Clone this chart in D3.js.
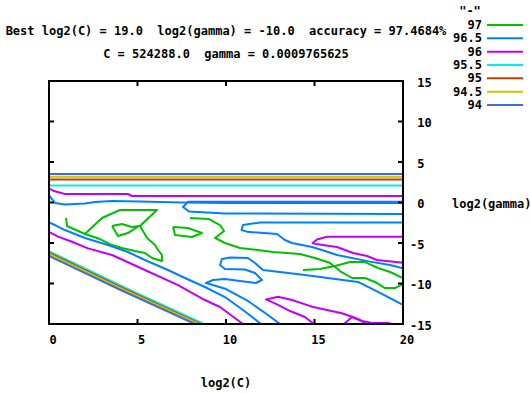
<!DOCTYPE html>
<html><head><meta charset="utf-8">
<script src="https://cdn.jsdelivr.net/npm/d3@7"></script>
<style>
body{margin:0;background:#fff}
text{font-family:"DejaVu Sans Mono",monospace;font-weight:bold;font-size:12px;fill:#000;white-space:pre}
</style>
</head><body><svg id="c" width="531" height="393"></svg>
<script>
// ---- data ----
const levels = [97, 96.5, 96, 95.5, 95, 94.5, 94];
const levelColors = ["#00c000","#0080ff","#c000ff","#00eeee","#c04000","#c8c800","#4169e1"];
const legendTitle = '"-"';
const xTicks = [0, 5, 10, 15, 20];
const yTicks = [15, 10, 5, 0, -5, -10, -15];
const xLabel = "log2(C)";
const yLabel = "log2(gamma)";
const titleLine1 = "Best log2(C) = 19.0  log2(gamma) = -10.0  accuracy = 97.4684%";
const titleLine2 = "C = 524288.0  gamma = 0.0009765625";

// contour paths, points are [log2(C), log2(gamma)]
const contour97 = [
  [[0.96,-1.91],[1.02,-2.90],[2.03,-3.89],[2.88,-4.51],[3.56,-5.25],[4.12,-5.62],[4.86,-5.99],[5.42,-6.23],[5.82,-6.85],[6.38,-7.22],[6.38,-6.48],[6.16,-5.86],[5.99,-5.25],[5.54,-4.38],[5.14,-2.90],[6.10,-0.93],[4.01,-0.93],[2.99,-1.91],[2.03,-3.89]],
  [[3.56,-2.90],[4.12,-2.65],[4.69,-3.02],[5.08,-2.90],[4.46,-3.77],[3.90,-4.14],[3.56,-2.90]],
  [[7.01,-3.02],[7.85,-3.15],[8.64,-3.77],[8.08,-4.26],[7.12,-4.01],[7.01,-3.02]],
  [[7.97,-1.91],[9.04,-2.04],[9.66,-2.78],[9.89,-3.52],[9.38,-4.38],[9.94,-5.00],[10.79,-5.62],[11.53,-5.80],[12.66,-6.11],[14.18,-6.36],[15.03,-6.85],[15.88,-7.47],[16.44,-8.46],[17.12,-9.32],[17.85,-9.32],[18.42,-9.81],[18.98,-10.56],[19.55,-10.56],[20,-10.06]],
  [[14.35,-8.33],[15.31,-8.21],[16.16,-7.84],[17.01,-7.35],[17.85,-7.35],[18.59,-8.09],[19.27,-8.58],[20,-9.32]]
];
const contour96_5 = [
  [[0,0.93],[0.11,0.56],[0.34,-0.06],[0.90,-0.25],[2.03,-0.12],[2.60,0.06],[3.56,0.19],[5.14,0.12],[7.57,0.0],[9.94,-0.06],[20,-0.06]],
  [[20,0.08],[7.85,0.08],[7.57,-0.56],[7.91,-1.11],[9.94,-1.36],[20,-1.42]],
  [[20,-2.47],[11.92,-2.47],[10.96,-2.78],[10.88,-3.40],[11.19,-3.60],[12.32,-3.80],[12.88,-3.89],[13.33,-4.63],[13.73,-5.0],[14.86,-5.49],[15.42,-5.86],[16.27,-6.48],[18.14,-7.30],[19.27,-7.72],[20,-8.12]],
  [[20,-12.65],[18.70,-11.17],[17.46,-9.81],[14.46,-8.95],[12.09,-8.33],[11.64,-7.47],[11.24,-6.85],[10.23,-6.79],[9.77,-6.98],[9.66,-7.72],[9.94,-8.21],[11.07,-8.27],[11.64,-8.70],[12.03,-9.57],[11.69,-9.94],[10.79,-9.69],[9.94,-9.44],[9.27,-9.57],[8.87,-9.94],[10.0,-10.68],[11.24,-12.16],[12.37,-13.89],[13.05,-15]],
  [[0,-2.47],[0.34,-2.78],[0.90,-3.40],[2.03,-4.38],[3.33,-5.25],[4.46,-6.11],[5.42,-7.10],[6.72,-8.33],[7.68,-9.32],[8.81,-10.43],[9.94,-11.67],[10.96,-13.27],[11.98,-15]]
];
const contour96 = [
  [[0,1.75],[0.23,1.46],[0.90,1.05],[4.46,1.05],[4.69,0.80],[20,0.80]],
  [[20,-4.22],[15.71,-4.22],[15.14,-4.57],[14.89,-5.0],[15.08,-5.12],[16.27,-5.49],[17.18,-6.23],[17.97,-6.60],[18.53,-7.10],[20,-7.43]],
  [[0,-3.64],[0.51,-4.22],[1.30,-4.84],[2.20,-5.66],[3.56,-6.48],[5.42,-8.33],[7.29,-10.19],[8.81,-12.04],[9.66,-12.90],[10.96,-15]],
  [[14.97,-15],[14.46,-14.14],[13.62,-13.40],[12.94,-12.65],[12.26,-11.97],[12.94,-11.63],[13.73,-12.04],[14.86,-12.86],[16.55,-13.68],[17.12,-14.10],[17.57,-14.51],[17.91,-15]],
  [[16.67,-15],[17.12,-14.14],[17.68,-14.63],[18.25,-14.88],[19.15,-14.88],[19.38,-15]]
];
const contour95_5 = [
  [[0,2.10],[20,2.10]],
  [[0,-6.0],[4.3,-10.5],[8.75,-15]]
];
const contour95 = [
  [[0,2.85],[20,2.85]],
  [[0,-6.2],[4.2,-10.6],[8.55,-15]]
];
const contour94_5 = [
  [[0,3.19],[20,3.19]],
  [[0,-6.35],[4.15,-10.7],[8.45,-15]]
];
const contour94 = [
  [[0,3.52],[20,3.52]],
  [[0,-6.6],[4.05,-10.8],[8.25,-15]]
];
const contoursByLevel = [contour97, contour96_5, contour96, contour95_5, contour95, contour94_5, contour94];

// ---- drawing ----
const svg = d3.select("#c");
const x = d3.scaleLinear().domain([0, 20]).range([49, 403]);
const y = d3.scaleLinear().domain([-15, 15]).range([324, 81]);

svg.append("defs").append("clipPath").attr("id","pc")
  .append("rect").attr("x", x(0)).attr("y", y(15)).attr("width", x(20)-x(0)).attr("height", y(-15)-y(15));

const line = d3.line().x(d => x(d[0])).y(d => y(d[1]));
const g = svg.append("g").attr("clip-path","url(#pc)");
contoursByLevel.forEach((paths, i) => {
  g.selectAll(null).data(paths).enter().append("path")
    .attr("d", line)
    .attr("fill","none")
    .attr("stroke", levelColors[i])
    .attr("stroke-width", 2)
    .attr("stroke-linejoin","round");
});

// frame + ticks
const tickLen = 5;
const axG = svg.append("g").attr("stroke","#000").attr("stroke-width",2);
xTicks.forEach(v => {
  axG.append("line").attr("x1",x(v)).attr("x2",x(v)).attr("y1",y(-15)).attr("y2",y(-15)-tickLen);
  axG.append("line").attr("x1",x(v)).attr("x2",x(v)).attr("y1",y(15)).attr("y2",y(15)+tickLen);
});
yTicks.forEach(v => {
  axG.append("line").attr("x1",x(0)).attr("x2",x(0)+tickLen).attr("y1",y(v)).attr("y2",y(v));
  axG.append("line").attr("x1",x(20)).attr("x2",x(20)-tickLen).attr("y1",y(v)).attr("y2",y(v));
});
svg.append("rect").attr("x",x(0)).attr("y",y(15)).attr("width",x(20)-x(0)).attr("height",y(-15)-y(15))
  .attr("fill","none").attr("stroke","#000").attr("stroke-width",2);

// tick labels
svg.selectAll(null).data(xTicks).enter().append("text")
  .attr("x", d => x(d) + 4).attr("y", y(-15) + 16)
  .attr("text-anchor","middle").attr("dominant-baseline","central")
  .text(d => String(d));
svg.selectAll(null).data(yTicks).enter().append("text")
  .attr("x", x(20) + 7).attr("y", d => y(d) + 1.5)
  .attr("dominant-baseline","central")
  .text(d => (d < 0 ? "" : " ") + d);

// axis titles
svg.append("text").attr("x", 226).attr("y", 383).attr("text-anchor","middle").attr("dominant-baseline","central").text(xLabel);
svg.append("text").attr("x", 452).attr("y", 204).attr("dominant-baseline","central").text(yLabel);

// chart titles
svg.append("text").attr("x", 226).attr("y", 31).attr("text-anchor","middle").attr("dominant-baseline","central").text(titleLine1);
svg.append("text").attr("x", 226).attr("y", 54).attr("text-anchor","middle").attr("dominant-baseline","central").text(titleLine2);

// legend
svg.append("text").attr("x", 470).attr("y", 11).attr("text-anchor","middle").attr("dominant-baseline","central").text(legendTitle);
const lg = svg.selectAll(null).data(levels).enter().append("g")
  .attr("transform", (d,i) => `translate(0,${25 + i*13.33})`);
lg.append("text").attr("x", 482).attr("y", 0).attr("text-anchor","end").attr("dominant-baseline","central").text(d => String(d));
lg.append("line").attr("x1", 487).attr("x2", 523).attr("y1", 0).attr("y2", 0)
  .attr("stroke", (d,i) => levelColors[i]).attr("stroke-width", 2);
</script>
</body></html>
